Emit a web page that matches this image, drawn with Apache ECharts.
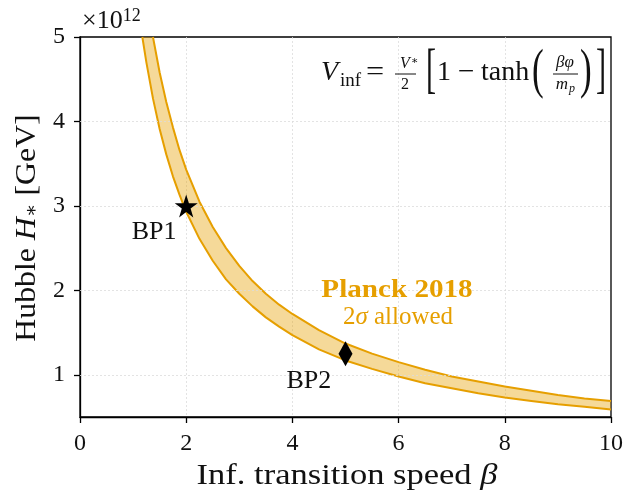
<!DOCTYPE html>
<html>
<head>
<meta charset="utf-8">
<script src="https://cdn.jsdelivr.net/npm/echarts@6/dist/echarts.min.js"></script>
<style>
  html, body { margin: 0; padding: 0; background: #fff; }
  #chart { width: 626px; height: 491px; }
</style>
</head>
<body>
<div id="chart"></div>
<script>
// Lower edge of the Planck 2018 2-sigma band: beta vs H_* (units of 1e12 GeV)
const lowerBeta = [1.174, 1.25, 1.375, 1.5, 1.625, 1.75, 1.875, 2, 2.25, 2.5, 2.75, 3, 3.25, 3.5, 3.75, 4, 4.5, 5, 5.5, 6, 6.5, 7, 7.5, 8, 8.5, 9, 9.5, 10];
const lowerH    = [5.00, 4.70, 4.27, 3.91, 3.61, 3.35, 3.13, 2.93, 2.61, 2.35, 2.13, 1.96, 1.81, 1.68, 1.57, 1.47, 1.30, 1.17, 1.07, 0.98, 0.90, 0.84, 0.78, 0.73, 0.69, 0.65, 0.62, 0.59];
// Upper edge of the band
const upperBeta = [1.374, 1.5, 1.625, 1.75, 1.875, 2, 2.25, 2.5, 2.75, 3, 3.25, 3.5, 3.75, 4, 4.5, 5, 5.5, 6, 6.5, 7, 7.5, 8, 8.5, 9, 9.5, 10];
const upperH    = [5.00, 4.58, 4.23, 3.93, 3.66, 3.43, 3.05, 2.75, 2.50, 2.29, 2.11, 1.96, 1.83, 1.72, 1.53, 1.37, 1.25, 1.15, 1.06, 0.98, 0.92, 0.86, 0.81, 0.76, 0.72, 0.69];
// Benchmark points
const bpNames = ['BP1', 'BP2'];
const bpBeta  = [2, 5];
const bpH     = [3, 1.25];
// Axis ticks
const xTicks = [0, 2, 4, 6, 8, 10];
const yTicks = [1, 2, 3, 4, 5];

const SERIF = '"Liberation Serif", "DejaVu Serif", serif';
const ORANGE = '#E69F00';
const BAND = 'rgba(230,159,0,0.40)';
const GRID = '#dcdcdc';
const STAR = 'path://M50,0 L61.2,34.5 L97.6,34.5 L68.2,55.9 L79.4,90.5 L50,69.1 L20.6,90.5 L31.8,55.9 L2.4,34.5 L38.8,34.5 Z';

const lowerPts = lowerBeta.map((b, i) => [b, lowerH[i]]);
const upperPts = upperBeta.map((b, i) => [b, upperH[i]]);

const chart = echarts.init(document.getElementById('chart'), null, { renderer: 'canvas' });

// small text piece of the potential formula; sx squeezes tall delimiters
function txt(x, y, text, font, extra, sx) {
  return {
    type: 'text', z: 100, x: x, y: y, scaleX: sx || 1,
    style: Object.assign({ x: 0, y: 0, text, font, fill: '#111', align: 'left', verticalAlign: 'middle' }, extra || {})
  };
}
function bar(x1, x2, y) {
  return { type: 'line', z: 100, shape: { x1, y1: y, x2, y2: y }, style: { stroke: '#111', lineWidth: 1 } };
}

const formula = [
  txt(321, 73, 'V', 'italic 28px ' + SERIF),
  txt(340, 81, 'inf', '19px ' + SERIF),
  txt(366, 73, '=', '28px ' + SERIF, null, 1.15),
  txt(405, 64, 'V', 'italic 16px ' + SERIF, { align: 'center' }),
  txt(411, 61, '∗', '11px ' + SERIF),
  bar(395, 416, 74),
  txt(405, 85, '2', '16px ' + SERIF, { align: 'center' }),
  txt(426, 73, '[', '55px ' + SERIF, null, 0.55),
  txt(437, 73, '1', '28px ' + SERIF),
  txt(458, 73, '−', '28px ' + SERIF, null, 1.05),
  txt(481, 73, 'tanh', '28px ' + SERIF),
  txt(532, 73, '(', '54px ' + SERIF, null, 0.65),
  txt(565, 63, 'βφ', 'italic 17px ' + SERIF, { align: 'center' }),
  bar(553, 578, 74),
  txt(562, 85, 'm', 'italic 17px ' + SERIF, { align: 'center' }),
  txt(569, 89, 'p', 'italic 12px ' + SERIF),
  txt(580, 73, ')', '54px ' + SERIF, null, 0.65),
  txt(596, 73, ']', '55px ' + SERIF, null, 0.55)
];

const option = {
  animation: false,
  backgroundColor: '#fff',
  grid: { left: 80, right: 13, top: 37, bottom: 74, show: true, borderColor: '#000', borderWidth: 1.3, backgroundColor: 'transparent' },
  xAxis: {
    type: 'value', min: 0, max: 10, interval: 2,
    axisLine: { lineStyle: { color: '#000', width: 1.3 } },
    axisTick: { length: 6, lineStyle: { color: '#000', width: 1.3 } },
    axisLabel: { fontFamily: SERIF, fontSize: 24, color: '#111', margin: 15 },
    splitLine: { show: true, showMinLine: false, showMaxLine: false, lineStyle: { color: GRID, type: [2, 2], width: 0.8 } }
  },
  yAxis: {
    type: 'value', min: 0.5, max: 5,
    axisLine: { lineStyle: { color: '#000', width: 1.3 } },
    axisTick: { length: 6, lineStyle: { color: '#000', width: 1.3 }, customValues: yTicks },
    axisLabel: { fontFamily: SERIF, fontSize: 24, color: '#111', margin: 15, customValues: yTicks },
    splitLine: { show: false }
  },
  series: [
    {
      // horizontal grid lines at the labelled y ticks
      type: 'line', data: [], z: 0, silent: true,
      markLine: {
        silent: true, symbol: 'none', label: { show: false },
        lineStyle: { color: GRID, type: [2, 2], width: 0.8 },
        data: yTicks.filter(v => v < 5).map(v => ({ yAxis: v }))
      }
    },
    {
      // filled band between the two edges
      type: 'custom', z: 1, silent: true, clip: true,
      data: [0],
      renderItem: function (params, api) {
        const pts = upperPts.map(p => api.coord(p))
          .concat(lowerPts.slice().reverse().map(p => api.coord(p)));
        return { type: 'polygon', shape: { points: pts }, style: { fill: BAND, stroke: null } };
      }
    },
    {
      type: 'line', z: 2, data: upperPts, showSymbol: false, smooth: false, clip: true,
      lineStyle: { color: ORANGE, width: 2 }
    },
    {
      type: 'line', z: 2, data: lowerPts, showSymbol: false, smooth: false, clip: true,
      lineStyle: { color: ORANGE, width: 2 }
    },
    {
      type: 'scatter', z: 5,
      data: [[bpBeta[0], bpH[0]]], symbol: STAR, symbolSize: 23,
      itemStyle: { color: '#000', opacity: 1 },
      label: { show: true, formatter: bpNames[0], position: [-43, 25], fontFamily: SERIF, fontSize: 26, color: '#111' }
    },
    {
      type: 'scatter', z: 5,
      data: [[bpBeta[1], bpH[1]]], symbol: 'diamond', symbolSize: [14, 25],
      itemStyle: { color: '#000', opacity: 1 },
      label: { show: true, formatter: bpNames[1], position: [-52, 27], fontFamily: SERIF, fontSize: 26, color: '#111' }
    }
  ],
  graphic: [
    {
      type: 'text', z: 100, style: {
        x: 82, y: 21, verticalAlign: 'middle',
        text: '×10{sup|12}', font: '26px ' + SERIF, fill: '#111',
        rich: { sup: { fontFamily: SERIF, fontSize: 18, verticalAlign: 'top', padding: [0, 0, 9, 0] } }
      }
    },
    {
      type: 'text', z: 100, x: 347, y: 476, scaleX: 1.15,
      style: {
        x: 0, y: 0, align: 'center', verticalAlign: 'middle',
        text: 'Inf. transition speed {it|β}', font: '30px ' + SERIF, fill: '#111',
        rich: { it: { fontFamily: SERIF, fontSize: 30, fontStyle: 'italic' } }
      }
    },
    {
      type: 'text', z: 100, x: 27, y: 228, rotation: Math.PI / 2, scaleX: 1.06,
      style: {
        x: 0, y: 0, align: 'center', verticalAlign: 'middle',
        text: 'Hubble {it|H}{sub|∗} [GeV]', font: '30px ' + SERIF, fill: '#111',
        rich: {
          it: { fontFamily: SERIF, fontSize: 30, fontStyle: 'italic' },
          sub: { fontFamily: SERIF, fontSize: 19, padding: [10, 0, 0, 0] }
        }
      }
    },
    {
      type: 'text', z: 100, x: 397, y: 290, scaleX: 1.12,
      style: {
        x: 0, y: 0, align: 'center', verticalAlign: 'middle',
        text: 'Planck 2018', font: 'bold 26px ' + SERIF, fill: ORANGE
      }
    },
    {
      type: 'text', z: 100, x: 398, y: 317,
      style: {
        x: 0, y: 0, align: 'center', verticalAlign: 'middle',
        text: '2{it|σ} allowed', font: '25px ' + SERIF, fill: ORANGE,
        rich: { it: { fontFamily: SERIF, fontSize: 25, fontStyle: 'italic', color: ORANGE } }
      }
    }
  ].concat(formula)
};

chart.setOption(option);
</script>
</body>
</html>
